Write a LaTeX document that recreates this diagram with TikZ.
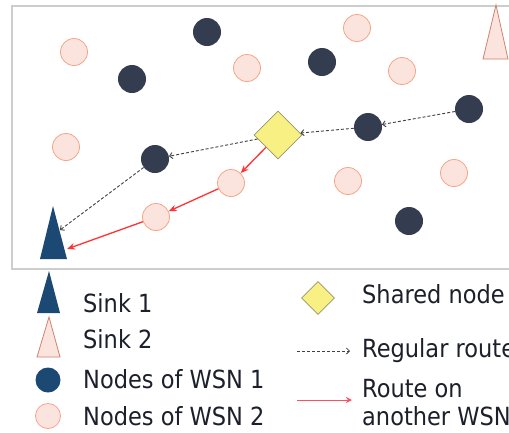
\documentclass[tikz,border=0pt]{standalone}
\usepackage{fontspec}
\setmainfont{DejaVu Sans}[FakeStretch=0.9]
\usetikzlibrary{shapes.geometric,arrows.meta}
\definecolor{wsnA}{RGB}{51,61,79}
\definecolor{wsnAleg}{RGB}{27,73,116}
\definecolor{pinkfill}{RGB}{252,228,222}
\definecolor{pinkline}{RGB}{245,165,135}
\definecolor{sinkA}{RGB}{27,73,116}
\definecolor{sinkBline}{RGB}{205,130,110}
\definecolor{sharedfill}{RGB}{248,240,130}
\definecolor{sharedline}{RGB}{150,150,110}
\definecolor{routered}{RGB}{255,51,51}
\definecolor{legendred}{RGB}{250,80,95}
\definecolor{framegray}{RGB}{205,205,205}
\definecolor{txt}{RGB}{28,32,42}
\begin{document}
\begin{tikzpicture}[x=1pt,y=-1pt,
  darknode/.style={circle,fill=wsnA,minimum size=28pt,inner sep=0},
  pinknode/.style={circle,fill=pinkfill,draw=pinkline,line width=0.8pt,minimum size=27pt,inner sep=0},
  shared/.style={diamond,fill=sharedfill,draw=sharedline,line width=0.8pt,minimum size=#1,inner sep=0},
  sinkone/.style={fill=sinkA},
  sinktwo/.style={fill=pinkfill,draw=sinkBline,line width=0.8pt},
  regular/.style={draw=black!75,dash pattern=on 3pt off 2pt,line width=0.9pt,-{Straight Barb[length=3pt,width=6pt]}},
  redroute/.style={draw=routered,line width=1.3pt,-{Stealth[length=8pt,width=6.5pt]}},
  lbl/.style={anchor=base west,font=\fontsize{25}{28}\selectfont,inner sep=0,text=txt}
]
\useasboundingbox (0,0) rectangle (509,432);
\fill[white] (0,0) rectangle (509,432);
% frame
\draw[framegray,line width=1.8pt] (12,6) rectangle (540,269);
% WSN 2 nodes
\node[pinknode] (p1) at (74,52) {};
\node[pinknode] (p2) at (247,68) {};
\node[pinknode] (p3) at (357,28) {};
\node[pinknode] (p4) at (402,71) {};
\node[pinknode] (p5) at (66,147) {};
\node[pinknode] (p6) at (231,183) {};
\node[pinknode] (p7) at (156,217) {};
\node[pinknode] (p8) at (348,181) {};
\node[pinknode] (p9) at (454,173) {};
% WSN 1 nodes
\node[darknode] (d1) at (207,32) {};
\node[darknode] (d2) at (132,79) {};
\node[darknode] (d3) at (322,62) {};
\node[darknode] (d4) at (155,159) {};
\node[darknode] (d5) at (368,127) {};
\node[darknode] (d6) at (469,109) {};
\node[darknode] (d7) at (409,221) {};
% shared node
\node[shared=48pt] (sh) at (278,135) {};
% sinks
\fill[sinkone] (53,206) -- (67,259) -- (40,259) -- cycle;
\coordinate (s1dash) at (60,230);
\coordinate (s1red) at (67,249);
\draw[sinktwo] (496,5) -- (508,59) -- (483,59) -- cycle;
% routes
\draw[regular] (d6) -- (d5);
\draw[regular] (d5) -- (sh);
\draw[regular] (sh) -- (d4);
\draw[regular] (d4) -- (s1dash);
\draw[redroute] (sh) -- (p6);
\draw[redroute] (p6) -- (p7);
\draw[redroute] (p7) -- (s1red);
% legend
\fill[sinkone] (49,271) -- (60,313) -- (37,313) -- cycle;
\node[lbl] (l1) at (83,312) {Sink 1};
\draw[sinktwo] (49,317) -- (60,357) -- (37,357) -- cycle;
\node[lbl] (l2) at (83,348) {Sink 2};
\node[circle,fill=wsnAleg,minimum size=25pt,inner sep=0] (lc1) at (48,380) {};
\node[lbl] (l3) at (83,388) {Nodes of WSN 1};
\node[pinknode,minimum size=25pt] (lc2) at (48,416) {};
\node[lbl] (l4) at (83,425) {Nodes of WSN 2};
\node[shared=33pt] (lsh) at (318,298) {};
\node[lbl] (l5) at (362,303) {Shared node};
\coordinate (ra) at (297,351);
\coordinate (rb) at (350,351);
\draw[regular,line width=0.8pt] (ra) -- (rb);
\node[lbl] (l6) at (362,357) {Regular route};
\coordinate (rc) at (297,400);
\coordinate (rd) at (352,400);
\draw[draw=legendred,line width=1pt,-{Stealth[length=6pt,width=6pt]}] (rc) -- (rd);
\node[lbl] (l7) at (362,397) {Route on};
\node[lbl] (l8) at (362,425) {another WSN};
\end{tikzpicture}
\end{document}
